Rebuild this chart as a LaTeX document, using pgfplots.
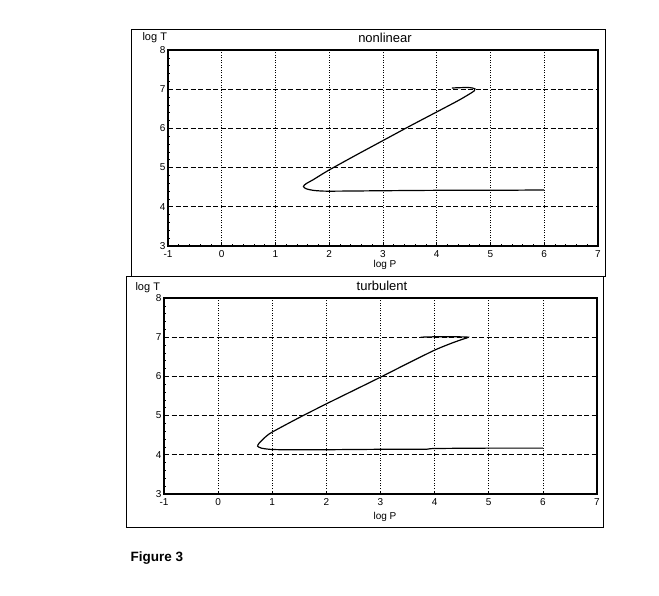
\documentclass[border=0pt]{standalone}
\usepackage{fontspec}
\setmainfont{Liberation Sans}
\usepackage{pgfplots}
\pgfplotsset{compat=1.18}

\pgfplotsset{
  panel/.style={
    scale only axis,
    width=430pt, height=196pt,
    xmin=-1, xmax=7, ymin=3, ymax=8,
    xtick={-1,0,...,7}, ytick={3,4,...,8},
    minor x tick num=4, minor y tick num=4,
    tick align=inside, tick pos=left,
    major tick length=3pt, minor tick length=1.5pt,
    every tick/.style={black, line width=0.6pt},
    axis line style={line width=1.3pt},
    xmajorgrids, ymajorgrids,
    x grid style={black, line width=0.7pt, dash pattern=on 1pt off 1.5pt},
    y grid style={black, line width=0.8pt, dash pattern=on 5pt off 2.5pt},
    /pgf/number format/assume math mode=true,
    ticklabel style={font=\fontsize{10}{12}\selectfont},
    xticklabel style={yshift=-1pt},
    yticklabel style={xshift=1pt},
    clip=false,
  },
  curve/.style={black, line width=1.2pt, smooth, tension=0.45, no marks},
}

\begin{document}
\begin{tikzpicture}
\useasboundingbox (0pt,0pt) rectangle (659pt,595pt);

% top panel: nonlinear
\draw[line width=1pt] (131pt,318pt) rectangle (605pt,565pt);
\begin{axis}[panel, at={(168pt,349pt)}, anchor=south west]
\addplot[curve] coordinates {
  (6.0,4.43) (5.0,4.42) (4.0,4.42) (3.0,4.41) (2.2,4.40) (1.9,4.40)
  (1.7,4.42) (1.57,4.46) (1.52,4.52) (1.57,4.59) (1.7,4.69) (1.9,4.86)
  (2.05,4.98) (2.5,5.32) (3.0,5.69) (3.5,6.06) (4.0,6.42) (4.4,6.71)
  (4.6,6.87) (4.7,6.96) (4.71,7.01) (4.62,7.04) (4.45,7.04) (4.28,7.03)
};
\end{axis}
\node[anchor=base west, font=\fontsize{11}{13}\selectfont] at (139pt,554pt) {log T};
\node[anchor=base, font=\fontsize{13}{15}\selectfont] at (385pt,552pt) {nonlinear};
\node[anchor=base, font=\fontsize{10}{12}\selectfont] at (385pt,327pt) {log P};

% bottom panel: turbulent
\draw[line width=1pt] (126pt,68pt) rectangle (603pt,318pt);
\begin{axis}[panel, at={(164pt,101pt)}, anchor=south west, width=433pt]
\addplot[curve] coordinates {
  (6.0,4.17) (5.0,4.17) (4.0,4.16) (3.8,4.14) (3.0,4.14) (2.0,4.13)
  (1.2,4.13) (0.95,4.14) (0.8,4.17) (0.73,4.22) (0.76,4.30) (0.87,4.45)
  (1.0,4.58) (1.5,4.95) (2.0,5.30) (2.5,5.64) (3.0,5.98) (3.5,6.33)
  (4.0,6.67) (4.3,6.84) (4.5,6.94) (4.62,7.0) (4.4,7.01) (4.0,7.01) (3.74,7.0)
};
\end{axis}
\node[anchor=base west, font=\fontsize{11}{13}\selectfont] at (132pt,304pt) {log T};
\node[anchor=base, font=\fontsize{13}{15}\selectfont] at (382pt,304pt) {turbulent};
\node[anchor=base, font=\fontsize{10}{12}\selectfont] at (385pt,76pt) {log P};

\node[anchor=base west, font=\bfseries\fontsize{13.5}{16}\selectfont] at (127pt,34pt) {Figure 3};
\end{tikzpicture}
\end{document}
